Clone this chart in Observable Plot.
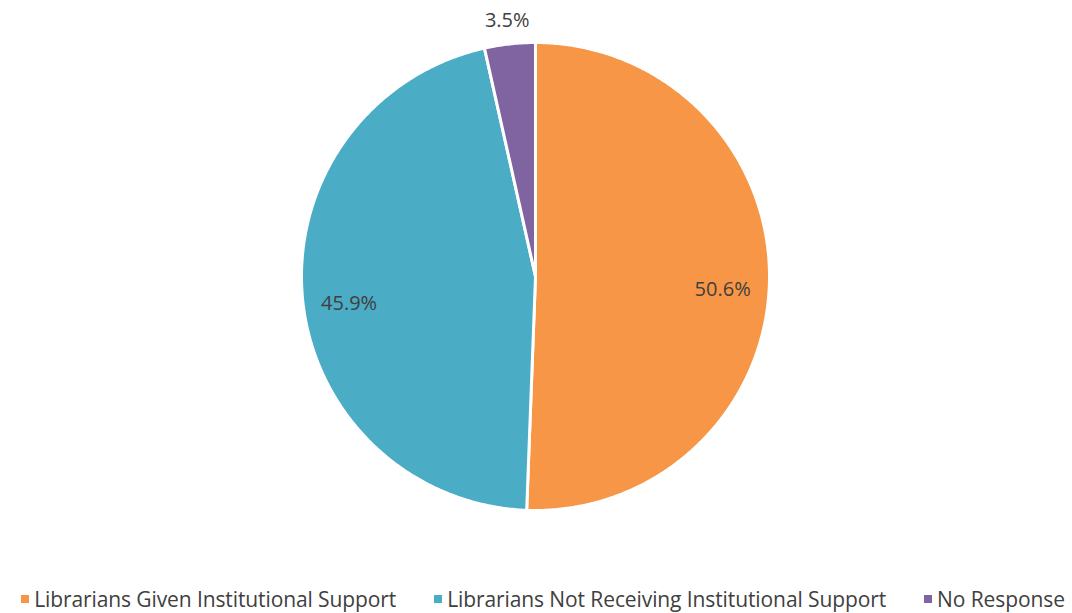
<!DOCTYPE html>
<html>
<head>
<meta charset="utf-8">
<script src="https://cdn.jsdelivr.net/npm/d3@7"></script>
<script src="https://cdn.jsdelivr.net/npm/@observablehq/plot@0.6"></script>
<style>
  html, body { margin: 0; padding: 0; background: #fff; }
  #chart svg { display: block; }
  #legend { display: flex; justify-content: center; gap: 38px; font-family: "Open Sans", sans-serif; font-size: 21px; letter-spacing: -0.1px; color: #404040; height: 28px; align-items: center; margin-left: 14px; }
  #legend span.item { display: flex; align-items: center; white-space: nowrap; }
  #legend span.sw { width: 8px; height: 8px; display: inline-block; margin-right: 5px; }
</style>
</head>
<body>
<div id="chart"></div>
<div id="legend"></div>
<script>
const categories = ["Librarians Given Institutional Support", "Librarians Not Receiving Institutional Support", "No Response"];
const values = [50.6, 45.9, 3.5];
const labels = ["50.6%", "45.9%", "3.5%"];
const colors = ["#F79646", "#4BACC6", "#8064A2"];

const total = d3.sum(values);
let acc = 0;
const slices = values.map((v, i) => {
  const a0 = acc / total * 2 * Math.PI;
  acc += v;
  const a1 = acc / total * 2 * Math.PI;
  return {category: categories[i], label: labels[i], a0, a1, value: v};
});

const pts = [];
for (const s of slices) {
  pts.push({category: s.category, x: 0, y: 0});
  const n = Math.max(2, Math.ceil((s.a1 - s.a0) / (Math.PI / 360)));
  for (let k = 0; k <= n; k++) {
    const a = s.a0 + (s.a1 - s.a0) * k / n;
    pts.push({category: s.category, x: Math.sin(a), y: Math.cos(a)});
  }
  pts.push({category: s.category, x: 0, y: 0});
}

const labelPts = slices.map(s => {
  const m = (s.a0 + s.a1) / 2;
  const outside = s.value / total < 0.05;
  const r = outside ? 1.1 : 0.8;
  return {label: s.label, outside, x: r * Math.sin(m), y: r * Math.cos(m)};
});

const H = 585;
const plot = Plot.plot({
  width: 1072,
  height: H,
  marginLeft: 301,
  marginRight: 1072 - 769,
  marginTop: 42,
  marginBottom: H - 510,
  x: {domain: [-1, 1], axis: null},
  y: {domain: [-1, 1], axis: null},
  color: {domain: categories, range: colors},
  style: {fontFamily: "'Open Sans', sans-serif", background: "#fff"},
  marks: [
    Plot.line(pts, {x: "x", y: "y", z: "category", fill: "category", stroke: "#fff", strokeWidth: 3, strokeLinejoin: "round", curve: "linear"}),
    Plot.text(labelPts.filter(d => !d.outside), {x: "x", y: "y", text: "label", fontSize: 20, fill: "#404040", dy: 10}),
    Plot.text(labelPts.filter(d => d.outside), {x: "x", y: "y", text: "label", fontSize: 20, fill: "#404040"})
  ]
});
document.getElementById("chart").appendChild(plot);

const legend = document.getElementById("legend");
categories.forEach((c, i) => {
  const item = document.createElement("span");
  item.className = "item";
  const sw = document.createElement("span");
  sw.className = "sw";
  sw.style.background = colors[i];
  item.appendChild(sw);
  item.appendChild(document.createTextNode(c));
  legend.appendChild(item);
});
</script>
</body>
</html>
